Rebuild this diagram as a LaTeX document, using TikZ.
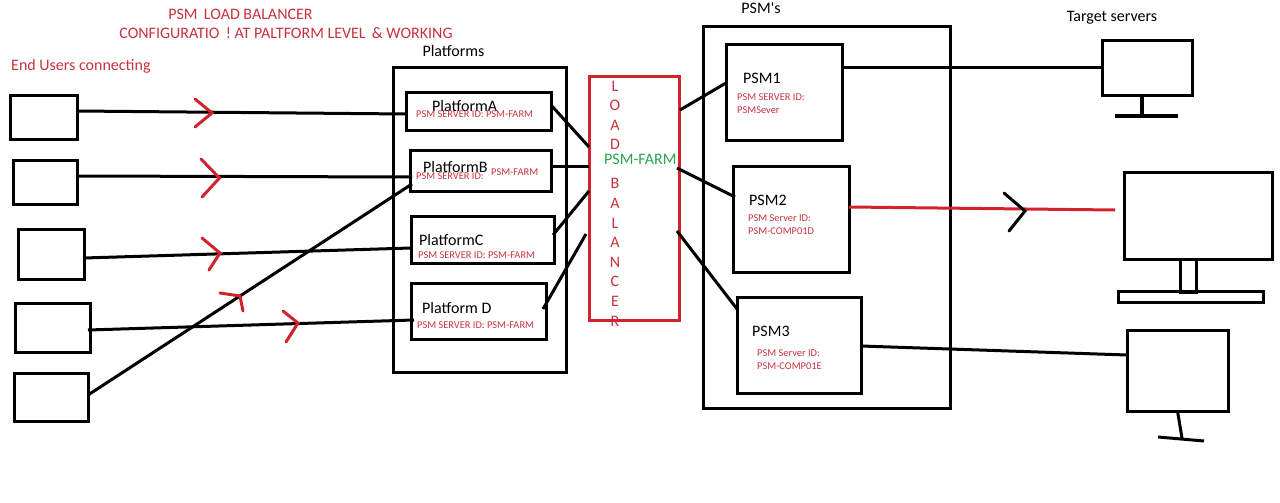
\documentclass[tikz,border=0pt]{standalone}
\usepackage{fontspec}
\setmainfont{Carlito}
\definecolor{penred}{RGB}{210,35,45}
\definecolor{txtred}{RGB}{200,50,60}
\definecolor{txtgreen}{RGB}{40,165,80}
\tikzset{
  box/.style={draw=black, line width=3pt, inner sep=0pt, outer sep=0pt},
  conn/.style={draw=black, line width=3pt},
  chevron/.style={draw=penred, line width=3pt, line cap=round, line join=miter},
  bigtxt/.style={inner sep=0pt, font=\fontsize{16}{18}\selectfont},
  smalltxt/.style={inner sep=0pt, text=txtred, font=\fontsize{10.4}{12}\selectfont},
  redtxt/.style={inner sep=0pt, text=txtred, font=\fontsize{16}{18}\selectfont},
}
\begin{document}
\begin{tikzpicture}[x=1pt, y=-1pt]
\useasboundingbox (0,0) rectangle (1280,503);

% end users
\node [box, minimum width=67, minimum height=44] (u1) at (43.5,117.5) {};
\node [box, minimum width=64, minimum height=44] (u2) at (45,182) {};
\node [box, minimum width=66, minimum height=50] (u3) at (51,254) {};
\node [box, minimum width=75, minimum height=49] (u4) at (53,327.5) {};
\node [box, minimum width=74, minimum height=48] (u5) at (51,397) {};

% platforms
\node [box, minimum width=173, minimum height=304] (platforms) at (479.5,220) {};
\node [box, minimum width=145, minimum height=38] (pA) at (478.5,111) {};
\node [box, minimum width=141, minimum height=41] (pB) at (480.5,170.5) {};
\node [box, minimum width=143, minimum height=47] (pC) at (482.5,239.5) {};
\node [box, minimum width=135, minimum height=56] (pD) at (478.5,311) {};

% load balancer
\node [box, draw=penred, minimum width=90, minimum height=243] (lb) at (634,198.5) {};

% psm
\node [box, minimum width=247, minimum height=381] (psms) at (826.5,217.5) {};
\node [box, minimum width=116, minimum height=95] (psm1) at (784,92.5) {};
\node [box, minimum width=116, minimum height=106] (psm2) at (791,219) {};
\node [box, minimum width=124, minimum height=96] (psm3) at (799,345) {};

% target servers
\node [box, minimum width=90, minimum height=54] (t1) at (1147,68) {};
\node [box, minimum width=148, minimum height=87] (t2) at (1198,215.5) {};
\node [box, minimum width=101, minimum height=81] (t3) at (1177.5,370.5) {};
\node [box, minimum width=16, minimum height=33] (t2stem) at (1188,275.5) {};
\node [box, minimum width=145, minimum height=11] (t2base) at (1190.5,296.5) {};
\draw [conn, line width=4.5pt] (t1.south) ++(-5,0) -- ++(0,21) coordinate (t1foot);
\draw [conn, line width=4pt] (1115,116) -- (1178,116);
\draw [conn] (t3.south) -- (1182,438) coordinate (t3foot);
\draw [conn] (1158,437) -- (1204,441);

% users to platforms
\draw [conn] ([yshift=6.5]u1.east) -- ([yshift=-3]pA.west);
\draw [conn] ([yshift=6]u2.east) -- ([xshift=2,yshift=-6.5]pB.west);
\draw [conn] ([yshift=-4]u3.east) -- ([yshift=-8.5]pC.west);
\draw [conn] ([xshift=-2.5,yshift=-2.5]u4.east) -- ([xshift=3,yshift=-9]pD.west);
\draw [conn] ([yshift=2]u5.east) -- ([xshift=2,yshift=-13.5]pB.west);

% platforms to load balancer
\draw [conn] ([yshift=6]pA.east) -- ([yshift=51.5]lb.west);
\draw [conn] ([yshift=4.5]pB.east) -- ([yshift=32.5]lb.west);
\draw [conn] ([xshift=-1,yshift=4.5]pC.east) -- ([yshift=7.5]lb.west);
\draw [conn] ([xshift=-3,yshift=2]pD.east) -- ([xshift=-3,yshift=-35.5]lb.west);

% load balancer to psm
\draw [conn] ([xshift=1,yshift=88.5]lb.east) -- ([yshift=9.5]psm1.west);
\draw [conn] ([xshift=-2,yshift=30.5]lb.east) -- ([xshift=2,yshift=22]psm2.west);
\draw [conn] ([xshift=-2,yshift=-32.5]lb.east) -- ([yshift=36]psm3.west);

% psm to targets
\draw [conn] ([yshift=24.5]psm1.east) -- (t1.west);
\draw [conn, draw=penred] ([yshift=12]psm2.east) -- ([xshift=-9,yshift=5.5]t2.west);
\draw [conn] ([yshift=-1]psm3.east) -- ([yshift=15.5]t3.west);

% arrows
\draw [chevron] (195,99) -- (212,113) -- (195,127);
\draw [chevron] (201,159) -- (219.5,178) -- (202,197);
\draw [chevron] (202,238) -- (220,253) -- (209,270);
\draw [chevron] (220,293) -- (240,296) -- (243,311);
\draw [chevron] (283,311) -- (298,323) -- (286,342);
\draw [chevron, draw=black] (1004,193) -- (1025,211) -- (1009,231);

% labels
\node [redtxt] (title1) at (240.5,14) {PSM\, LOAD BALANCER};
\node [redtxt] (title2) at (286,33) {CONFIGURATIO \,! AT PALTFORM LEVEL\, \& WORKING};
\node [redtxt, anchor=west] (usrtxt) at (11,66) {End Users connecting};
\node [bigtxt] (pftxt) at (453.5,51) {Platforms};
\node [bigtxt] (psmtxt) at (761,8) {PSM\textquotesingle s};
\node [bigtxt] (tgttxt) at (1112,18) {Target servers};

\node [bigtxt, anchor=west] (pAname) at (432,106) {PlatformA};
\node [bigtxt, anchor=west] (pBname) at (423,167) {PlatformB};
\node [bigtxt, anchor=west] (pCname) at (419,240) {PlatformC};
\node [bigtxt, anchor=west] (pDname) at (422,308) {Platform D};
\node [smalltxt, anchor=west] (pAid) at (416,114) {PSM SERVER ID: PSM-FARM};
\node [smalltxt, anchor=west] (pBid1) at (416,176) {PSM SERVER ID:};
\node [smalltxt, anchor=west] (pBid2) at (491,172) {PSM-FARM};
\node [smalltxt, anchor=west] (pCid) at (418,255) {PSM SERVER ID: PSM-FARM};
\node [smalltxt, anchor=west] (pDid) at (417,325) {PSM SERVER ID: PSM-FARM};

\node [bigtxt, anchor=west] (psm1name) at (743,78) {PSM1};
\node [bigtxt, anchor=west] (psm2name) at (749,200) {PSM2};
\node [bigtxt, anchor=west] (psm3name) at (752,331) {PSM3};
\node [smalltxt, anchor=west] (psm1id1) at (737,97) {PSM SERVER ID:};
\node [smalltxt, anchor=west] (psm1id2) at (737,110) {PSMSever};
\node [smalltxt, anchor=west] (psm2id1) at (748,218) {PSM Server ID:};
\node [smalltxt, anchor=west] (psm2id2) at (748,231) {PSM-COMP01D};
\node [smalltxt, anchor=west] (psm3id1) at (757,353) {PSM Server ID:};
\node [smalltxt, anchor=west] (psm3id2) at (757,366) {PSM-COMP01E};

\foreach \ltr/\ypos in {L/86,O/105,A/125,D/144,B/183,A/203,L/223,A/242,N/262,C/281,E/301,R/321}
  \node [redtxt] at (615,\ypos) {\ltr};
\node [bigtxt, text=txtgreen, anchor=west] (farm) at (604,159) {PSM-FARM};
\end{tikzpicture}
\end{document}
